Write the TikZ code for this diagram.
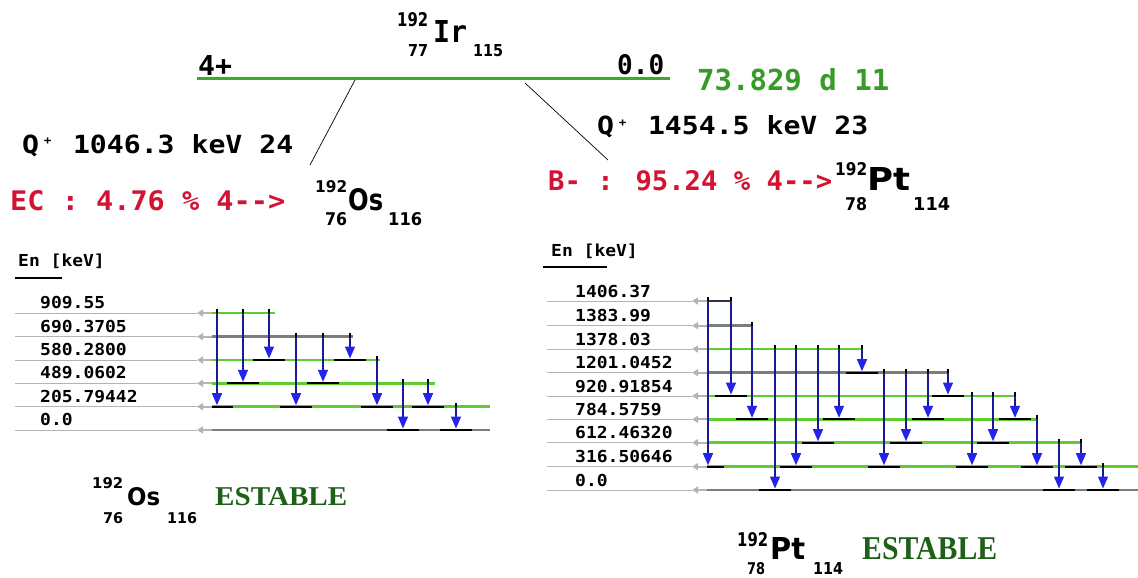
\documentclass[tikz,border=0pt]{standalone}
\usepackage{fontspec}
\usepackage{graphicx}
\usetikzlibrary{arrows.meta}
\newfontfamily\mono{DejaVu Sans Mono}
\newfontfamily\sansf{DejaVu Sans}
\newfontfamily\serf{Liberation Serif}
\definecolor{lvgreen}{RGB}{95,205,45}
\definecolor{topgreen}{RGB}{60,170,40}
\definecolor{txgreen}{RGB}{55,155,40}
\definecolor{redt}{RGB}{210,20,50}
\definecolor{estab}{RGB}{30,95,25}
\definecolor{arrblue}{RGB}{35,35,235}
\definecolor{shaftblue}{RGB}{25,25,150}
\definecolor{lvgray}{RGB}{125,125,125}
\definecolor{guide}{RGB}{180,180,180}
\newcommand\fitbx[3]{\resizebox{#1pt}{#2pt}{#3}}
\newcommand\lvtxt[1]{\scalebox{1.09}[1]{\mono\bfseries\fontsize{16.5}{16.5}\selectfont #1}}
\begin{document}
\begin{tikzpicture}[x=1pt,y=-1pt,
  txt/.style={inner sep=0pt,anchor=base west},
  guideline/.style={guide,line width=0.9pt},
  guidearrow/.style={guide,line width=2pt,-{Triangle[length=6pt,width=7pt]}},
  levline/.style={line width=2.5pt},
  landing/.style={black,line width=2.2pt},
  tickmark/.style={black,line width=1.4pt},
  gam/.style={shaftblue,line width=1.4pt,-{Triangle[length=12pt,width=10pt,color=arrblue]}},
  decayline/.style={black,line width=0.7pt}]
\fill[white] (0,0) rectangle (1138,578);
\useasboundingbox (0,0) rectangle (1138,578);

% ---------- top parent level ----------
\coordinate (topL) at (197,79);
\coordinate (topR) at (670,79);
\draw[topgreen,line width=3pt] (topL) -- (topR);
\coordinate (osA) at (355,80);
\coordinate (osB) at (310,165);
\coordinate (ptA) at (525,83);
\coordinate (ptB) at (608,160);
\draw[decayline] (osA) -- (osB);
\draw[decayline] (ptA) -- (ptB);

\node[txt] (n4p) at (198,75.5) {\fitbx{34}{20}{\mono\bfseries 4+}};
\node[txt] (n00) at (617,74.5) {\fitbx{47}{20}{\mono\bfseries 0.0}};
\node[txt,text=txgreen] (nhl) at (697,90.5) {\fitbx{192}{22}{\mono\bfseries 73.829 d 11}};
% Ir
\node[txt] (irA) at (397,27) {\fitbx{31}{14}{\sansf\bfseries 192}};
\node[txt] (irS) at (433,42) {\fitbx{34}{22}{\mono\bfseries Ir}};
\node[txt] (irZ) at (408,57) {\fitbx{20}{12}{\sansf\bfseries 77}};
\node[txt] (irN) at (473,57) {\fitbx{30}{12}{\sansf\bfseries 115}};

% Q values
\node[txt] (q1) at (22,153) {\fitbx{271}{19}{\mono\bfseries\fontsize{20}{20}\selectfont Q\makebox[12.04pt]{\raisebox{7pt}{\fontsize{9}{9}\selectfont +}} 1046.3 keV 24}};
\node[txt] (q2) at (597,135) {\fitbx{271}{19}{\mono\bfseries\fontsize{20}{20}\selectfont Q\makebox[12.04pt]{\raisebox{7pt}{\fontsize{9}{9}\selectfont +}} 1454.5 keV 23}};
\node[txt,text=redt] (ec) at (10,210) {\fitbx{275}{20}{\mono\bfseries EC : 4.76 \% 4-{}-{}>}};
\node[txt,text=redt] (bm) at (548,190) {\fitbx{284}{20}{\mono\bfseries B- : 95.24 \% 4-{}-{}>}};
% Os (top)
\node[txt] (osTA) at (315,192) {\fitbx{32}{12}{\sansf\bfseries 192}};
\node[txt] (osTS) at (348,210) {\fitbx{35}{22}{\sansf\bfseries Os}};
\node[txt] (osTZ) at (325,225) {\fitbx{22}{13}{\sansf\bfseries 76}};
\node[txt] (osTN) at (388,225) {\fitbx{34}{13}{\sansf\bfseries 116}};
% Pt (top)
\node[txt] (ptTA) at (835,175) {\fitbx{32}{13}{\sansf\bfseries 192}};
\node[txt] (ptTS) at (867,190) {\fitbx{43}{23}{\sansf\bfseries Pt}};
\node[txt] (ptTZ) at (845,210) {\fitbx{22}{13}{\sansf\bfseries 78}};
\node[txt] (ptTN) at (913,210) {\fitbx{37}{13}{\sansf\bfseries 114}};

% ---------- Os scheme ----------
\node[txt] (osEn) at (18,266) {\lvtxt{En [keV]}};
\coordinate (osU1) at (15,278); \coordinate (osU2) at (62,278);
\draw[black,line width=1.3pt] (osU1) -- (osU2);
\foreach \y/\xe/\c in {313/275/lvgreen, 336.7/353/lvgray, 360/380/lvgreen, 383.3/435/lvgreen, 406.7/490/lvgreen, 430/490/lvgray}{
  \draw[guideline] (15,\y) -- (197,\y);
  \draw[guidearrow] (212,\y) -- (197,\y);
  \draw[levline,\c] (212,\y) -- (\xe,\y);
}
\foreach \n/\y/\t in {a/313/909.55, b/336.7/690.3705, c/360/580.2800, d/383.3/489.0602, e/406.7/205.79442, f/430/0.0}{
  \node[txt] (osl\n) at (40,\y-4.5) {\lvtxt{\t}};
}
\foreach \x/\a/\b in {217/313/406.7, 243/313/383.3, 269/313/360, 296/336.7/406.7, 323/336.7/383.3, 350/336.7/360, 377/360/406.7, 403/383.3/430, 428/383.3/406.7, 456/406.7/430}{
  \draw[landing] ({max(\x-16,212)},\b) -- (\x+16,\b);
}
\foreach \x/\a/\b in {217/313/406.7, 243/313/383.3, 269/313/360, 296/336.7/406.7, 323/336.7/383.3, 350/336.7/360, 377/360/406.7, 403/383.3/430, 428/383.3/406.7, 456/406.7/430}{
  \draw[tickmark] (\x,\a-4) -- (\x,\a+3);
  \draw[gam] (\x,\a) -- (\x,\b-1.5);
}

% ---------- Pt scheme ----------
\node[txt] (ptEn) at (551,256) {\lvtxt{En [keV]}};
\coordinate (ptU1) at (543,267); \coordinate (ptU2) at (607,267);
\draw[black,line width=1.3pt] (ptU1) -- (ptU2);
\foreach \y/\xe/\c in {301/731/black!80, 325.7/752/lvgray, 349/862/lvgreen, 372.7/949/lvgray, 396/1015/lvgreen, 419.3/1037/lvgreen, 442.7/1082/lvgreen, 466.7/1138/lvgreen, 490/1138/lvgray}{
  \draw[guideline] (547,\y) -- (692,\y);
  \draw[guidearrow] (707,\y) -- (692,\y);
  \draw[levline,\c] (707,\y) -- (\xe,\y);
}
\foreach \n/\y/\t in {a/301/1406.37, b/325.7/1383.99, c/349/1378.03, d/372.7/1201.0452, e/396/920.91854, f/419.3/784.5759, g/442.7/612.46320, h/466.7/316.50646, i/490/0.0}{
  \node[txt] (ptl\n) at (575,\y-4) {\lvtxt{\t}};
}
\foreach \x/\a/\b in {708/301/466.7, 731/301/396, 752/325.7/419.3, 775/349/490, 796/349/466.7, 818/349/442.7, 839/349/419.3, 862/349/372.7, 884/372.7/466.7, 906/372.7/442.7, 928/372.7/419.3, 948/372.7/396, 972/396/466.7, 993/396/442.7, 1015/396/419.3, 1037/419.3/466.7, 1059/442.7/490, 1081/442.7/466.7, 1103/466.7/490}{
  \draw[landing] ({max(\x-16,707)},\b) -- (\x+16,\b);
}
\foreach \x/\a/\b in {708/301/466.7, 731/301/396, 752/325.7/419.3, 775/349/490, 796/349/466.7, 818/349/442.7, 839/349/419.3, 862/349/372.7, 884/372.7/466.7, 906/372.7/442.7, 928/372.7/419.3, 948/372.7/396, 972/396/466.7, 993/396/442.7, 1015/396/419.3, 1037/419.3/466.7, 1059/442.7/490, 1081/442.7/466.7, 1103/466.7/490}{
  \draw[tickmark] (\x,\a-4) -- (\x,\a+3);
  \draw[gam] (\x,\a) -- (\x,\b-1.5);
}

% ---------- bottom labels ----------
\node[txt] (osBA) at (92,488) {\fitbx{31}{11}{\sansf\bfseries 192}};
\node[txt] (osBS) at (127,505) {\fitbx{33}{18}{\sansf\bfseries Os}};
\node[txt] (osBZ) at (103,523) {\fitbx{20}{11}{\sansf\bfseries 76}};
\node[txt] (osBN) at (167,523) {\fitbx{30}{11}{\sansf\bfseries 116}};
\node[txt,text=estab] (osE) at (215,505) {\fitbx{132}{18}{\serf\bfseries ESTABLE}};

\node[txt] (ptBA) at (737,546) {\fitbx{31}{14}{\sansf\bfseries 192}};
\node[txt] (ptBS) at (770,559) {\fitbx{35}{22}{\sansf\bfseries Pt}};
\node[txt] (ptBZ) at (747,574.5) {\fitbx{18}{12}{\sansf\bfseries 78}};
\node[txt] (ptBN) at (813,574.5) {\fitbx{30}{12}{\sansf\bfseries 114}};
\node[txt,text=estab] (ptE) at (862,559) {\fitbx{135}{22}{\serf\bfseries ESTABLE}};
\end{tikzpicture}
\end{document}
